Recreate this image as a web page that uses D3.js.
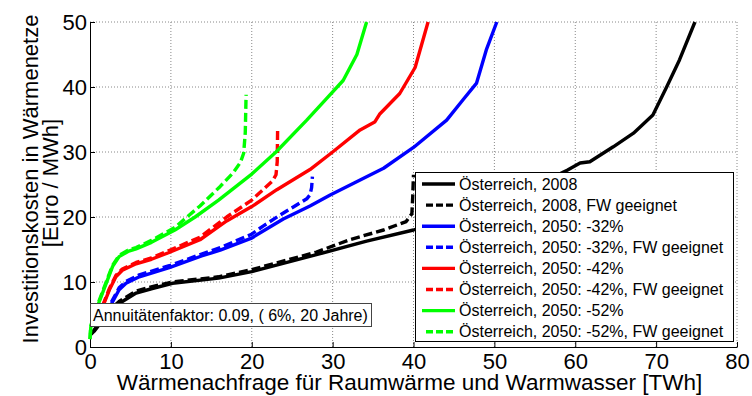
<!DOCTYPE html>
<html>
<head>
<meta charset="utf-8">
<script src="https://cdn.jsdelivr.net/npm/d3@7/dist/d3.min.js"></script>
<style>
  body { margin: 0; background: #fff; }
  svg { font-family: "Liberation Sans", Arial, sans-serif; }
</style>
</head>
<body>
<svg id="chart" width="752" height="396"></svg>
<script>
// tick values
const xTicks = [0, 10, 20, 30, 40, 50, 60, 70, 80];
const yTicks = [0, 10, 20, 30, 40, 50];

// series
const x2008 = [0, 0.5, 1.5, 2.5, 3.6, 5.7, 7.7, 10.2, 15.9, 20, 28, 34.2, 40, 45, 50, 55, 59, 60.6, 61.8, 64.7, 67.2, 69.6, 71.3, 72.9, 74.8];
const y2008 = [1.8, 2.4, 4, 5.5, 6.7, 8.3, 9, 9.8, 10.6, 11.6, 14.2, 16.3, 18, 20, 22.3, 24.8, 27.2, 28.3, 28.5, 30.8, 32.9, 35.7, 40, 44.2, 50];
const x2008fw = [0, 0.5, 1.5, 2.5, 3.6, 5.7, 7.7, 10.2, 15.9, 20, 28, 32.1, 36.3, 39.1, 39.8, 39.9, 40];
const y2008fw = [1.9, 2.6, 4.2, 5.8, 7, 8.6, 9.3, 10, 10.8, 11.9, 14.6, 16.5, 18, 19.3, 20.5, 23, 26.5];

const x32 = [1.8, 2.6, 3.6, 4.45, 6.1, 9.8, 13.8, 16.1, 19.9, 23.9, 27.2, 29.7, 33.4, 36.3, 40, 44.1, 46.1, 47.8, 49, 50.3];
const y32 = [5, 6.5, 8.8, 9.8, 10.8, 12.2, 14, 14.9, 16.7, 19.7, 21.7, 23.4, 25.7, 27.5, 30.7, 34.9, 38, 40.6, 45.7, 50];
const x32fw = [1.8, 2.6, 3.6, 4.45, 6.1, 9.8, 13.8, 16.1, 19.9, 21.4, 23.5, 26, 26.8, 27.2, 27.4, 27.5];
const y32fw = [5.2, 6.8, 9.1, 10.1, 11.1, 12.5, 14.3, 15.3, 17.3, 18.6, 20.3, 22.2, 22.8, 23.4, 24.5, 26.2];

const x42 = [0.8, 1.57, 2.4, 3.2, 4, 5.7, 7.6, 9.7, 13.6, 16.9, 20, 23.1, 27.2, 30, 33.4, 35.2, 35.8, 38.3, 40.2, 41, 41.8];
const y42 = [4.5, 6.2, 8.8, 10.8, 11.8, 12.8, 13.5, 14.5, 16.5, 19.4, 21.6, 24.2, 27.3, 30, 33.4, 34.6, 35.8, 39, 43, 46.5, 50];
const x42fw = [0.8, 1.57, 2.4, 3.2, 4, 5.7, 7.6, 9.7, 13.6, 16.9, 20, 21.4, 22.6, 23, 23.15, 23.2];
const y42fw = [4.6, 6.4, 9, 11, 12, 13, 13.7, 14.8, 16.9, 20, 22.6, 24.2, 25.6, 26.5, 28.5, 33.7];

const x52 = [0, 0.1, 0.5, 1, 2, 2.8, 3.6, 4.7, 5.7, 7.6, 10.5, 13, 15.9, 20, 23, 26.8, 29.3, 31.3, 33, 34.2];
const y52 = [1.2, 3.1, 5, 6.5, 9.8, 12.4, 13.9, 14.7, 15.1, 16.1, 18, 20, 22.6, 26.6, 30, 34.9, 38.3, 41, 45, 50];
const x52fw = [0, 0.1, 0.5, 1, 2, 2.8, 3.6, 4.7, 5.7, 7.6, 10.5, 13.6, 16.1, 17.7, 18.6, 19, 19.2, 19.3];
const y52fw = [1.2, 3.2, 5.1, 6.7, 10, 12.6, 14.1, 14.9, 15.3, 16.4, 18.4, 21.7, 24.7, 26.8, 28.4, 29.8, 33, 38.8];

const seriesNames = [
  "Österreich, 2008", "Österreich, 2008, FW geeignet",
  "Österreich, 2050: -32%", "Österreich, 2050: -32%, FW geeignet",
  "Österreich, 2050: -42%", "Österreich, 2050: -42%, FW geeignet",
  "Österreich, 2050: -52%", "Österreich, 2050: -52%, FW geeignet"
];
const seriesColors = ["#000", "#000", "#0000ff", "#0000ff", "#ff0000", "#ff0000", "#00ff00", "#00ff00"];
const seriesX = [x2008, x2008fw, x32, x32fw, x42, x42fw, x52, x52fw];
const seriesY = [y2008, y2008fw, y32, y32fw, y42, y42fw, y52, y52fw];

const margin = { left: 90, right: 15, top: 22, bottom: 49 };
const width = 752, height = 396;

const svg = d3.select("#chart");

const x = d3.scaleLinear().domain([0, 80]).range([margin.left, width - margin.right]);
const y = d3.scaleLinear().domain([0, 50]).range([height - margin.bottom, margin.top]);

// grid
svg.append("g").selectAll("line").data(xTicks.slice(1)).enter().append("line")
  .attr("x1", d => x(d)).attr("x2", d => x(d))
  .attr("y1", y(0)).attr("y2", y(50))
  .attr("stroke", "#888").attr("stroke-dasharray", "1,2");
svg.append("g").selectAll("line").data(yTicks.slice(1)).enter().append("line")
  .attr("x1", x(0)).attr("x2", x(80))
  .attr("y1", d => y(d)).attr("y2", d => y(d))
  .attr("stroke", "#888").attr("stroke-dasharray", "1,2");

// axes
const xAxis = svg.append("g")
  .attr("transform", "translate(0," + y(0) + ")")
  .call(d3.axisBottom(x).tickValues(xTicks).tickSizeInner(-5).tickSizeOuter(0).tickPadding(6));
const yAxis = svg.append("g")
  .attr("transform", "translate(" + x(0) + ",0)")
  .call(d3.axisLeft(y).tickValues(yTicks).tickSizeInner(-5).tickSizeOuter(0).tickPadding(3));
[xAxis, yAxis].forEach(a => {
  a.select(".domain").attr("stroke", "#000");
  a.selectAll(".tick line").attr("stroke", "#000");
  a.selectAll(".tick text").attr("font-size", 22).attr("fill", "#000")
    .attr("font-family", "Liberation Sans, Arial, sans-serif");
});
yAxis.selectAll(".tick text").attr("dy", "0.36em");

// lines
const line = d3.line().x(d => x(d[0])).y(d => y(d[1]));
seriesNames.forEach((name, i) => {
  svg.append("path")
    .datum(d3.zip(seriesX[i], seriesY[i]))
    .attr("d", line)
    .attr("fill", "none")
    .attr("stroke", seriesColors[i])
    .attr("stroke-width", 3.4)
    .attr("stroke-linejoin", "round")
    .attr("stroke-dasharray", i % 2 ? "9,4" : null);
});

// annotation box
const note = svg.append("g");
note.append("rect")
  .attr("x", 90.5).attr("y", 303.5).attr("width", 281).attr("height", 23)
  .attr("fill", "#fff").attr("stroke", "#444");
note.append("text")
  .attr("x", 93).attr("y", 320.5)
  .attr("font-size", 16)
  .text("Annuitätenfaktor: 0.09, ( 6%, 20 Jahre)");

// legend
const legend = svg.append("g");
legend.append("rect")
  .attr("x", 415.5).attr("y", 172.5).attr("width", 318).attr("height", 169)
  .attr("fill", "#fff").attr("stroke", "#000");
seriesNames.forEach((name, i) => {
  const ly = 184 + i * 21.1;
  legend.append("line")
    .attr("x1", i % 2 ? 426 : 422).attr("x2", 455)
    .attr("y1", ly).attr("y2", ly)
    .attr("stroke", seriesColors[i]).attr("stroke-width", 3.4)
    .attr("stroke-dasharray", i % 2 ? "7,3" : null);
  legend.append("text")
    .attr("x", 459).attr("y", ly + 5.5)
    .attr("font-size", 16)
    .text(name);
});

// axis labels
svg.append("text")
  .attr("x", (x(0) + x(80)) / 2 - 4).attr("y", 390)
  .attr("text-anchor", "middle").attr("font-size", 22.5)
  .text("Wärmenachfrage für Raumwärme und Warmwasser [TWh]");
svg.append("text")
  .attr("transform", "translate(38,179) rotate(-90)")
  .attr("text-anchor", "middle").attr("font-size", 22)
  .text("Investitionskosten in Wärmenetze");
svg.append("text")
  .attr("transform", "translate(58,183) rotate(-90)")
  .attr("text-anchor", "middle").attr("font-size", 22)
  .text("[Euro / MWh]");
</script>
</body>
</html>
